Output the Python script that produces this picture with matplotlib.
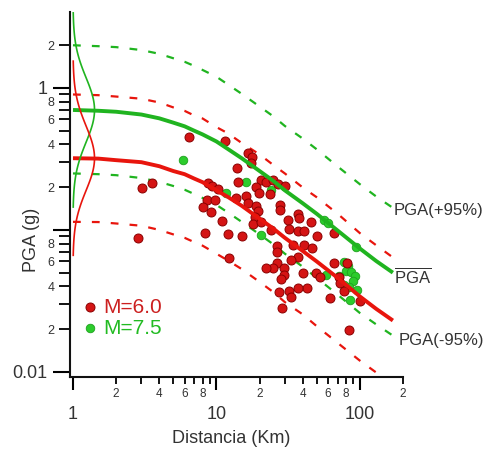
import numpy as np
import matplotlib
matplotlib.use('Agg')
import matplotlib.pyplot as plt

plt.rcParams['font.family'] = ['Liberation Sans', 'DejaVu Sans']
plt.rcParams['mathtext.fontset'] = 'custom'
plt.rcParams['mathtext.rm'] = 'Liberation Sans'

# curves, read at these distances (km)
dist = [1, 1.5, 2, 3, 4, 5, 6, 7, 8, 10, 12, 15, 20, 25, 30, 40, 50, 70, 100, 130, 170]
green_med = [0.70, 0.691, 0.68, 0.65, 0.611, 0.57, 0.537, 0.50, 0.471, 0.42, 0.372, 0.32,
             0.26, 0.221, 0.19, 0.154, 0.13, 0.099, 0.074, 0.0604, 0.050]
green_hi = [2.0, 1.97, 1.94, 1.85, 1.74, 1.62, 1.53, 1.43, 1.34, 1.20, 1.06, 0.91,
            0.74, 0.63, 0.54, 0.44, 0.37, 0.28, 0.21, 0.172, 0.143]
green_lo = [0.25, 0.247, 0.243, 0.232, 0.218, 0.204, 0.192, 0.179, 0.168, 0.150, 0.133, 0.114,
            0.093, 0.079, 0.068, 0.055, 0.046, 0.035, 0.026, 0.0216, 0.018]
red_med = [0.32, 0.318, 0.31, 0.30, 0.281, 0.26, 0.247, 0.23, 0.217, 0.19, 0.171, 0.148,
           0.12, 0.102, 0.088, 0.071, 0.060, 0.046, 0.034, 0.0278, 0.023]
red_hi = [0.90, 0.89, 0.87, 0.84, 0.79, 0.73, 0.69, 0.64, 0.61, 0.53, 0.48, 0.41,
          0.34, 0.286, 0.25, 0.199, 0.17, 0.13, 0.095, 0.078, 0.064]
red_lo = [0.114, 0.1136, 0.111, 0.107, 0.100, 0.093, 0.088, 0.082, 0.0775, 0.068, 0.061, 0.053,
          0.043, 0.0364, 0.031, 0.0254, 0.021, 0.016, 0.012, 0.0099, 0.0082]

# observations M=6.0
red_r = [3.04, 3.57, 2.85, 6.48, 11.4, 16.5, 17.6, 17.3, 14.0, 14.2, 20.3, 22.0, 25.0, 26.7,
         29.9, 19.0, 19.7, 23.5, 8.79, 9.38, 10.2, 13.8, 16.0, 16.5, 8.65, 9.84, 8.11, 9.23,
         19.0, 19.4, 27.6, 27.6, 18.7, 18.1, 20.3, 11.0, 31.4, 36.8, 45.4, 31.9, 36.8, 40.6,
         24.2, 8.38, 12.1, 15.0, 50.0, 65.8, 26.3, 26.3, 34.0, 40.6, 46.2, 12.3, 36.8, 32.9,
         26.3, 25.0, 22.0, 29.4, 29.4, 28.0, 39.9, 49.2, 52.5, 65.8, 81.1, 71.3, 72.5, 77.3,
         61.7, 42.6, 36.8, 31.9, 27.1, 32.9, 28.5, 100, 83.7, 37.4]
red_pga = [0.198, 0.214, 0.088, 0.452, 0.424, 0.349, 0.327, 0.296, 0.273, 0.218, 0.225, 0.218,
           0.225, 0.211, 0.204, 0.201, 0.182, 0.179, 0.214, 0.204, 0.194, 0.168, 0.174, 0.155,
           0.163, 0.163, 0.145, 0.134, 0.148, 0.136, 0.150, 0.138, 0.124, 0.110, 0.114, 0.116,
           0.118, 0.130, 0.114, 0.102, 0.0985, 0.0985, 0.100, 0.0953, 0.0938, 0.0908, 0.0908,
           0.0953, 0.0771, 0.0700, 0.0784, 0.0784, 0.0747, 0.0635, 0.0646, 0.0615, 0.0586,
           0.0540, 0.0540, 0.0540, 0.0482, 0.0452, 0.0498, 0.0498, 0.0467, 0.0586, 0.0586,
           0.0467, 0.0423, 0.0372, 0.0332, 0.0391, 0.0391, 0.0372, 0.0366, 0.0337, 0.0282,
           0.0316, 0.0198, 0.122]

# observations M=7.5
green_r = [5.88, 16.2, 11.7, 23.9, 20.6, 56.0, 59.7, 93.8, 77.3, 82.4, 79.8, 86.5, 92.3,
           71.3, 57.8, 89.4, 83.7, 77.3, 85.1, 95.3]
green_pga = [0.311, 0.218, 0.182, 0.191, 0.0923, 0.118, 0.112, 0.0759, 0.0595, 0.0557,
             0.0514, 0.0506, 0.0474, 0.0474, 0.0482, 0.0437, 0.0397, 0.0410, 0.0321, 0.0378]

# log-normal spread drawn at R=1
green_mu, red_mu, sigma = 0.70, 0.32, 0.228

RED = '#e8150d'
GREEN = '#20b420'
TXT = '#333333'

fig = plt.figure(figsize=(4.9, 4.5), dpi=100)
ax = fig.add_axes((69.8/490, 73/450, 333.2/490, 365/450))
ax.set_xscale('log')
ax.set_yscale('log')
ax.set_xlim(0.95, 200)
ax.set_ylim(0.0092, 3.43)

ax.scatter(green_r, green_pga, s=38, c='#2ccc2c', edgecolors='#1fa01f', linewidths=0.6, zorder=3)
ax.scatter(red_r, red_pga, s=42, c='#d41414', edgecolors='#8a0000', linewidths=0.7, zorder=3)

dash = (3.5, 5)
ax.plot(dist, green_hi, color=GREEN, lw=1.6, dashes=dash, zorder=2)
ax.plot(dist, green_lo, color=GREEN, lw=1.6, dashes=dash, zorder=2)
ax.plot(dist, red_hi, color=RED, lw=1.6, dashes=dash, zorder=2)
ax.plot(dist, red_lo, color=RED, lw=1.6, dashes=dash, zorder=2)
ax.plot(dist, green_med, color=GREEN, lw=2.8, zorder=4, solid_capstyle='butt')
ax.plot(dist, red_med, color=RED, lw=2.8, zorder=4, solid_capstyle='butt')

z = np.linspace(-3, 3, 121)
bump = 10 ** (0.15 * np.exp(-0.5 * z ** 2))
ax.plot(bump, green_mu * 10 ** (sigma * z), color=GREEN, lw=1.2, zorder=5)
ax.plot(bump, red_mu * 10 ** (sigma * z), color=RED, lw=1.2, zorder=5)

for s in ['top', 'right']:
    ax.spines[s].set_visible(False)
for s in ['left', 'bottom']:
    ax.spines[s].set_linewidth(1.5)
    ax.spines[s].set_color('#111111')

# x ticks
ax.set_xticks([1, 10, 100])
ax.set_xticklabels(['1', '10', '100'], fontsize=13, color=TXT)
xminor = [2, 3, 4, 5, 6, 7, 8, 9, 20, 30, 40, 50, 60, 70, 80, 90, 200]
ax.set_xticks(xminor, minor=True)
ax.set_xticklabels(['2', '', '4', '', '6', '', '8', '', '2', '', '4', '', '6', '', '8', '', '2'],
                   minor=True, fontsize=8.5, color=TXT)
ax.tick_params(axis='x', which='major', length=9, width=1.5, pad=12)
ax.tick_params(axis='x', which='minor', length=5, width=1.3, pad=3)

# y ticks
ax.set_yticks([0.01, 0.1, 1])
ax.set_yticklabels(['0.01', '', '1'], fontsize=13, color=TXT)
yminor = [0.02, 0.03, 0.04, 0.05, 0.06, 0.07, 0.08, 0.09,
          0.2, 0.3, 0.4, 0.5, 0.6, 0.7, 0.8, 0.9, 2]
ax.set_yticks(yminor, minor=True)
ax.set_yticklabels(['2', '', '4', '', '6', '', '8', '', '2', '', '4', '', '6', '', '8', '', '2'],
                   minor=True, fontsize=9, color=TXT)
ax.tick_params(axis='y', which='major', length=12, width=1.5, pad=4)
ax.tick_params(axis='y', which='minor', length=8, width=1.3, pad=3)

ax.set_xlabel('Distancia (Km)', fontsize=13, color=TXT)
ax.xaxis.set_label_coords(0.484, -0.145)
ax.set_ylabel('PGA (g)', fontsize=13, color=TXT)
ax.yaxis.set_label_coords(-0.09, 0.375)

ax.text(173, 0.138, 'PGA(+95%)', fontsize=12, color=TXT, va='center', ha='left', clip_on=False)
ax.text(173, 0.0474, r'$\overline{\mathrm{PGA}}$', fontsize=12, color=TXT, va='center', ha='left',
        clip_on=False)
ax.text(187, 0.0165, 'PGA(-95%)', fontsize=12, color=TXT, va='center', ha='left', clip_on=False)

h1 = ax.scatter([], [], s=42, c='#d41414', edgecolors='#8a0000', linewidths=0.7)
h2 = ax.scatter([], [], s=38, c='#2ccc2c', edgecolors='#1fa01f', linewidths=0.6)
leg = ax.legend([h1, h2], ['M=6.0', 'M=7.5'], loc='lower left', bbox_to_anchor=(-0.013, 0.068),
                frameon=False, fontsize=15, handletextpad=0.1, labelspacing=0.1,
                handlelength=1.0, borderpad=0.2)
leg.get_texts()[0].set_color('#cc2020')
leg.get_texts()[1].set_color('#22bb22')

fig.savefig('out.png', dpi=100)
